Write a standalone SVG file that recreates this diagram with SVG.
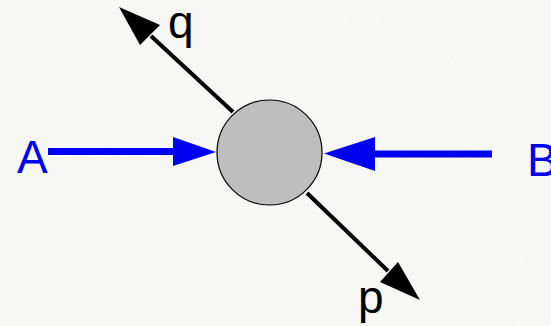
<svg xmlns="http://www.w3.org/2000/svg" width="551" height="326" viewBox="0 0 551 326">
<defs>
<filter id="grain" x="0" y="0" width="100%" height="100%">
<feTurbulence type="fractalNoise" baseFrequency="0.9" numOctaves="2" seed="3" result="n"/>
<feColorMatrix type="matrix" values="0 0 0 0 0.86  0 0 0 0 0.87  0 0 0 0 0.9  0 0 0 -2.2 1.25" in="n" result="c"/>
<feComposite in="c" in2="SourceGraphic" operator="in"/>
</filter>
</defs>
<style>
.lbl{font-family:"Liberation Sans",Arial,sans-serif;font-size:46px}
.blue{fill:#0000f0}
.black{fill:#000}
.bline{stroke:#0000f0;stroke-width:7;fill:none}
.kline{stroke:#000;stroke-width:4;fill:none}
</style>
<rect width="551" height="326" fill="#f8f8f6"/>
<rect width="551" height="326" fill="#ffffff" filter="url(#grain)" opacity="0.6"/>
<g id="connectors">
<line class="bline" x1="48" y1="151.5" x2="174" y2="151.5"/>
<polygon class="blue" points="173,137 216,152 173,166"/>
<line class="bline" x1="492" y1="154" x2="374" y2="154"/>
<polygon class="blue" points="375,137 324,153.5 375,171"/>
<line class="kline" x1="233" y1="112" x2="151" y2="36"/>
<polygon class="black" points="119,7 160,25 140,45"/>
<line class="kline" x1="307" y1="193" x2="388" y2="271"/>
<polygon class="black" points="420,300 398,262 380,282"/>
</g>
<g id="particle">
<circle cx="269.5" cy="152.5" r="52.5" fill="#bebebe" stroke="#000" stroke-width="1.2"/>
</g>
<g id="label-A"><text class="lbl blue" x="17" y="173">A</text></g>
<g id="label-B"><text class="lbl blue" x="527" y="176">B</text></g>
<g id="label-q"><text class="lbl black" x="168" y="38">q</text></g>
<g id="label-p"><text class="lbl black" x="358" y="313">p</text></g>
</svg>
